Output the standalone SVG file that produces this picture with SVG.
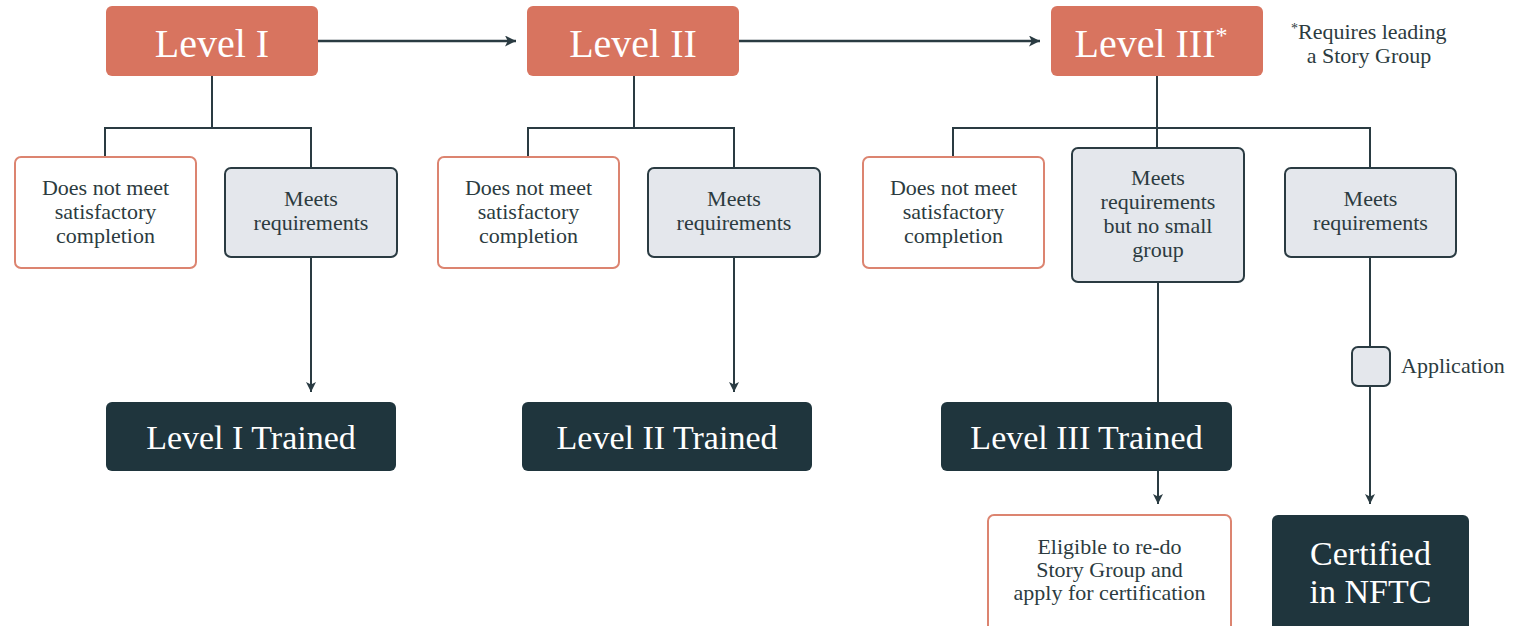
<svg xmlns="http://www.w3.org/2000/svg" width="1515" height="626" viewBox="0 0 1515 626">
<style>
text{font-family:"Liberation Serif","Times New Roman",serif;}
.lvl{fill:#D8745F;}
.lvlt{fill:#FFFFFF;font-size:40px;text-anchor:middle;}
.fail{fill:#FFFFFF;stroke:#DC8470;stroke-width:2;}
.ok{fill:#E4E7EC;stroke:#2A3B42;stroke-width:2;}
.dark{fill:#1F353D;}
.darkt{fill:#FFFFFF;font-size:34px;text-anchor:middle;}
.cert{fill:#FFFFFF;font-size:34px;text-anchor:middle;}
.bt{fill:#2C3B40;font-size:22px;text-anchor:middle;}
.note{fill:#2C3B40;font-size:22px;}
.ln{fill:none;stroke:#2A3B42;stroke-width:2;}
.ar{fill:none;stroke:#2A3B42;stroke-width:2;marker-end:url(#ah);}
.arh{fill:none;stroke:#2A3B42;stroke-width:2.5;marker-end:url(#ahh);}
</style>
<defs>
<marker id="ah" viewBox="0 0 10 10" refX="10" refY="5" markerWidth="5" markerHeight="6" markerUnits="strokeWidth" orient="auto">
<path d="M0,0 L10,5 L0,10 L2.5,5 Z" fill="#2A3B42"/>
</marker>
<marker id="ahh" viewBox="0 0 10 10" refX="10" refY="5" markerWidth="5" markerHeight="4.4" markerUnits="strokeWidth" orient="auto">
<path d="M0,0 L10,5 L0,10 L2.5,5 Z" fill="#2A3B42"/>
</marker>
</defs>
<rect width="1515" height="626" fill="#FFFFFF"/>

<g id="connectors">
<line class="arh" x1="318" y1="41" x2="516" y2="41"/>
<line class="arh" x1="739" y1="41" x2="1040" y2="41"/>
<polyline class="ln" points="212,75 212,128"/>
<polyline class="ln" points="105,157 105,128 311,128 311,168"/>
<line class="ar" x1="311" y1="257" x2="311" y2="392"/>
<polyline class="ln" points="634,75 634,128"/>
<polyline class="ln" points="528,157 528,128 734,128 734,168"/>
<line class="ar" x1="734" y1="257" x2="734" y2="392"/>
<polyline class="ln" points="1157,75 1157,148"/>
<polyline class="ln" points="953,157 953,128 1370,128 1370,168"/>
<line class="ln" x1="1158" y1="282" x2="1158" y2="402"/>
<line class="ar" x1="1158" y1="471" x2="1158" y2="504"/>
<line class="ln" x1="1370" y1="257" x2="1370" y2="347"/>
<line class="ar" x1="1370" y1="386" x2="1370" y2="504"/>
</g>

<g id="level1">
<rect class="lvl" x="106" y="6" width="212" height="70" rx="6"/>
<text class="lvlt" x="212" y="57">Level I</text>
</g>
<g id="level2">
<rect class="lvl" x="527" y="6" width="212" height="70" rx="6"/>
<text class="lvlt" x="633" y="57">Level II</text>
</g>
<g id="level3">
<rect class="lvl" x="1051" y="6" width="212" height="70" rx="6"/>
<text class="lvlt" x="1151" y="57">Level III<tspan font-size="24px" dy="-14">*</tspan></text>
</g>
<g id="note">
<text class="note" x="1291" y="39"><tspan font-size="14px" dy="-6">*</tspan><tspan dy="6">Requires leading</tspan></text>
<text class="note" x="1369" y="63" text-anchor="middle">a Story Group</text>
</g>

<g id="l1-fail">
<rect class="fail" x="15" y="157" width="181" height="111" rx="6"/>
<text class="bt" x="105.5" y="195">Does not meet</text>
<text class="bt" x="105.5" y="219">satisfactory</text>
<text class="bt" x="105.5" y="243">completion</text>
</g>
<g id="l1-meets">
<rect class="ok" x="225" y="168" width="172" height="89" rx="6"/>
<text class="bt" x="311" y="206">Meets</text>
<text class="bt" x="311" y="230">requirements</text>
</g>
<g id="l2-fail">
<rect class="fail" x="438" y="157" width="181" height="111" rx="6"/>
<text class="bt" x="528.5" y="195">Does not meet</text>
<text class="bt" x="528.5" y="219">satisfactory</text>
<text class="bt" x="528.5" y="243">completion</text>
</g>
<g id="l2-meets">
<rect class="ok" x="648" y="168" width="172" height="89" rx="6"/>
<text class="bt" x="734" y="206">Meets</text>
<text class="bt" x="734" y="230">requirements</text>
</g>
<g id="l3-fail">
<rect class="fail" x="863" y="157" width="181" height="111" rx="6"/>
<text class="bt" x="953.5" y="195">Does not meet</text>
<text class="bt" x="953.5" y="219">satisfactory</text>
<text class="bt" x="953.5" y="243">completion</text>
</g>
<g id="l3-nogroup">
<rect class="ok" x="1072" y="148" width="172" height="134" rx="6"/>
<text class="bt" x="1158" y="185">Meets</text>
<text class="bt" x="1158" y="209">requirements</text>
<text class="bt" x="1158" y="233">but no small</text>
<text class="bt" x="1158" y="257">group</text>
</g>
<g id="l3-meets">
<rect class="ok" x="1285" y="168" width="171" height="89" rx="6"/>
<text class="bt" x="1370.5" y="206">Meets</text>
<text class="bt" x="1370.5" y="230">requirements</text>
</g>

<g id="l1-trained">
<rect class="dark" x="106" y="402" width="290" height="69" rx="6"/>
<text class="darkt" x="251" y="449">Level I Trained</text>
</g>
<g id="l2-trained">
<rect class="dark" x="522" y="402" width="290" height="69" rx="6"/>
<text class="darkt" x="667" y="449">Level II Trained</text>
</g>
<g id="l3-trained">
<rect class="dark" x="941" y="402" width="291" height="69" rx="6"/>
<text class="darkt" x="1086.5" y="449">Level III Trained</text>
</g>

<g id="application">
<rect class="ok" x="1352" y="347" width="38" height="39" rx="6"/>
<text class="note" x="1401" y="373">Application</text>
</g>

<g id="eligible">
<rect class="fail" x="988" y="515" width="243" height="120" rx="6"/>
<text class="bt" x="1109.5" y="554">Eligible to re-do</text>
<text class="bt" x="1109.5" y="577">Story Group and</text>
<text class="bt" x="1109.5" y="600">apply for certification</text>
</g>
<g id="certified">
<rect class="dark" x="1272" y="515" width="197" height="120" rx="6"/>
<text class="cert" x="1370.5" y="565">Certified</text>
<text class="cert" x="1370.5" y="603">in NFTC</text>
</g>
</svg>
